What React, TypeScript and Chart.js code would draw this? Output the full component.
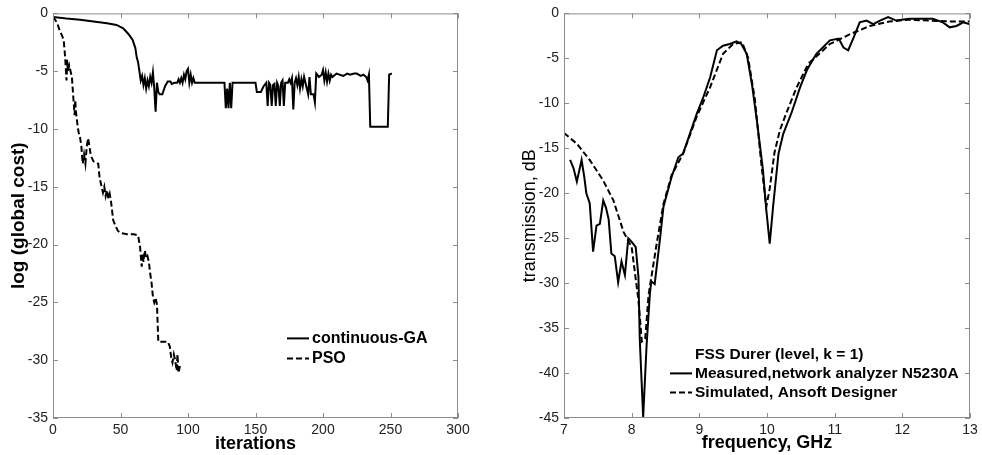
import React, { useEffect, useRef } from "react";
import { Chart, registerables } from "chart.js";

Chart.register(...registerables);

// ---------- Left chart: convergence ----------
const gaIter = [0, 10, 20, 30, 40, 47, 52, 56, 59, 61, 62, 63, 64, 65, 66, 67, 68, 69, 70, 71, 72, 73, 74, 75, 76, 77, 78, 79, 81, 83, 85, 87, 88, 90, 92, 93, 94, 95, 96, 97, 98, 99, 100, 101, 102, 103, 104, 105, 127, 128, 129, 130, 131, 132, 133, 150, 151, 154, 156, 158, 159, 160, 161, 162, 163, 164, 165, 166, 167, 168, 169, 170, 171, 172, 174, 175, 176, 177, 178, 179, 180, 181, 182, 183, 184, 185, 186, 187, 188, 189, 190, 191, 193, 194, 195, 197, 199, 200, 201, 202, 203, 204, 205, 206, 207, 210, 215, 218, 220, 223, 225, 228, 230, 232, 233, 234, 235, 248, 249, 251];
const gaCost = [-0.3, -0.45, -0.55, -0.7, -0.85, -1.0, -1.3, -1.8, -2.3, -3.0, -3.8, -4.2, -5.0, -5.8, -5.4, -6.2, -5.6, -6.5, -5.8, -6.3, -5.5, -6.0, -5.1, -6.5, -8.5, -6.0, -6.8, -7.0, -7.0, -6.3, -5.9, -5.9, -6.1, -6.0, -6.0, -5.7, -6.0, -5.6, -6.0, -5.3, -5.7, -5.0, -4.8, -6.0, -5.3, -6.0, -5.6, -6.0, -6.0, -8.2, -6.5, -8.2, -6.0, -8.2, -6.0, -6.0, -6.8, -6.8, -6.3, -6.0, -8.0, -6.0, -6.2, -8.0, -6.2, -6.1, -8.0, -6.0, -6.3, -8.0, -6.0, -5.8, -8.0, -6.0, -6.0, -5.7, -6.0, -5.6, -8.3, -6.0, -5.6, -6.2, -5.5, -6.5, -5.7, -6.3, -5.5, -6.0, -6.5, -7.0, -5.5, -7.0, -7.0, -7.7, -5.2, -5.5, -5.3, -4.9, -5.8, -5.1, -5.9, -5.2, -5.8, -5.3, -5.5, -5.2, -5.4, -5.2, -5.3, -5.2, -5.2, -5.4, -5.3, -5.5, -5.8, -5.3, -9.8, -9.8, -5.3, -5.2];

const psoIter = [0, 3, 5, 7, 8, 9, 10, 10.5, 11, 12, 13, 14, 15, 16, 16.5, 17, 18, 19, 20, 21, 22, 23, 24, 25, 26, 27, 28, 30, 33.5, 34.5, 36, 37, 38, 39, 40, 41, 42, 43, 44.6, 46, 48, 50, 55, 60, 63, 64.5, 65.7, 66.5, 67, 68, 69, 70, 71, 72, 73, 74, 75, 76, 77, 78, 80, 85, 86.5, 87.6, 88.5, 89.5, 90.5, 91.6, 92.2, 93, 94];
const psoCost = [-0.3, -0.8, -1.5, -2.0, -2.4, -3.8, -5.8, -4.0, -5.0, -4.5, -5.0, -5.5, -7.2, -8.8, -7.5, -8.5, -9.5, -10.3, -10.7, -11.5, -13.0, -12.2, -13.0, -11.5, -10.8, -11.5, -12.3, -12.8, -13.0, -14.2, -15.0, -15.5, -15.0, -15.8, -15.3, -16.0, -15.6, -16.3, -17.9, -18.3, -18.8, -19.0, -19.1, -19.1, -19.2, -20.2, -21.9, -20.8, -21.5, -20.5, -21.2, -21.0, -21.5, -22.5, -23.3, -24.5, -25.0, -24.6, -25.2, -28.4, -28.4, -28.4, -28.8, -29.8, -30.2, -29.5, -30.0, -30.9, -29.5, -31.1, -30.5];

// ---------- Right chart: transmission ----------
const measFreq = [7.09, 7.14, 7.19, 7.26, 7.3, 7.33, 7.38, 7.43, 7.48, 7.53, 7.58, 7.62, 7.66, 7.7, 7.75, 7.8, 7.85, 7.9, 7.95, 8.0, 8.06, 8.1, 8.12, 8.17, 8.22, 8.27, 8.29, 8.34, 8.42, 8.47, 8.59, 8.69, 8.76, 8.86, 8.96, 9.06, 9.16, 9.26, 9.35, 9.45, 9.55, 9.62, 9.7, 9.78, 9.85, 9.94, 9.985, 10.04, 10.09, 10.17, 10.24, 10.36, 10.49, 10.59, 10.73, 10.93, 11.06, 11.13, 11.2, 11.28, 11.37, 11.47, 11.57, 11.67, 11.79, 11.91, 12.1, 12.3, 12.45, 12.6, 12.7, 12.8, 12.9, 13.0];
const measDb = [-16.3, -17.2, -18.7, -16.3, -18.2, -20.0, -21.1, -26.5, -23.6, -23.4, -20.8, -21.6, -22.9, -26.7, -27.0, -29.9, -27.6, -29.1, -25.0, -25.4, -26.0, -29.3, -36.3, -44.9, -37.0, -31.1, -29.8, -30.1, -25.0, -21.5, -18.2, -16.0, -15.6, -13.4, -11.2, -9.3, -7.1, -4.1, -3.6, -3.4, -3.1, -3.4, -4.5, -8.0, -11.9, -17.4, -21.5, -25.6, -21.5, -15.6, -13.4, -11.1, -8.2, -6.3, -4.5, -3.0, -2.8, -3.8, -4.1, -2.7, -1.0, -0.8, -1.2, -0.8, -0.4, -0.8, -0.6, -0.6, -0.6, -1.0, -1.55, -1.4, -1.0, -1.2];

const simFreq = [7.0, 7.19, 7.38, 7.58, 7.73, 7.88, 8.0, 8.1, 8.15, 8.2, 8.25, 8.37, 8.47, 8.59, 8.76, 8.96, 9.16, 9.35, 9.5, 9.63, 9.72, 9.82, 9.92, 9.99, 10.04, 10.11, 10.19, 10.29, 10.44, 10.61, 10.8, 10.93, 11.23, 11.52, 11.81, 12.1, 12.4, 12.7, 13.0];
const simDb = [-13.3, -14.5, -16.3, -18.6, -20.8, -24.3, -26.0, -31.9, -36.5, -36.2, -31.3, -25.6, -21.2, -18.0, -15.6, -11.5, -8.2, -4.5, -3.4, -3.2, -4.9, -9.5, -17.0, -21.5, -19.5, -15.5, -13.0, -11.0, -8.2, -5.6, -4.3, -3.4, -2.3, -1.4, -0.9, -0.7, -0.8, -0.9, -0.9];

const leftLegend = ["continuous-GA", "PSO"];
const rightLegendTitle = "FSS Durer (level, k = 1)";
const rightLegend = ["Measured,network analyzer N5230A", "Simulated, Ansoft Designer"];

const FONT = "'Liberation Sans', Arial, sans-serif";

const zip = (xs: number[], ys: number[]) => xs.map((x, i) => ({ x, y: ys[i] }));

const framePlugin = {
  id: "frame",
  afterDraw(chart: any) {
    const { ctx, chartArea: a, scales } = chart;
    ctx.save();
    ctx.strokeStyle = "#8c8c8c";
    ctx.lineWidth = 1;
    ctx.strokeRect(a.left + 0.5, a.top + 0.5, a.right - a.left - 1, a.bottom - a.top - 1);
    const L = 5;
    ctx.beginPath();
    scales.x.ticks.forEach((_t: any, i: number) => {
      const x = Math.round(scales.x.getPixelForTick(i)) + 0.5;
      ctx.moveTo(x, a.bottom);
      ctx.lineTo(x, a.bottom - L);
      ctx.moveTo(x, a.top);
      ctx.lineTo(x, a.top + L);
    });
    scales.y.ticks.forEach((_t: any, i: number) => {
      const y = Math.round(scales.y.getPixelForTick(i)) + 0.5;
      ctx.moveTo(a.left, y);
      ctx.lineTo(a.left + L, y);
      ctx.moveTo(a.right, y);
      ctx.lineTo(a.right - L, y);
    });
    ctx.stroke();
    ctx.restore();
  },
};

const legendPlugin = {
  id: "innerLegend",
  afterDraw(chart: any, _args: any, opts: any) {
    const { ctx, chartArea: a } = chart;
    ctx.save();
    ctx.font = `bold ${opts.size}px ${FONT}`;
    ctx.fillStyle = "#000";
    ctx.textBaseline = "middle";
    const x0 = a.left + opts.dx;
    let y = a.top + opts.dy;
    if (opts.title) {
      ctx.fillText(opts.title, x0 + opts.lineLen + 3, y);
      y += opts.gap;
    }
    opts.items.forEach((label: string, i: number) => {
      ctx.strokeStyle = "#000";
      ctx.lineWidth = 2;
      ctx.setLineDash(i === 0 ? [] : [6, 3]);
      ctx.beginPath();
      ctx.moveTo(x0, y);
      ctx.lineTo(x0 + opts.lineLen, y);
      ctx.stroke();
      ctx.setLineDash([]);
      ctx.fillText(label, x0 + opts.lineLen + 3, y);
      y += opts.gap;
    });
    ctx.restore();
  },
};

function makeConfig(p: any) {
  return {
    type: "line",
    data: {
      datasets: [
        {
          data: p.d1,
          borderColor: "#000",
          borderWidth: 2,
          pointRadius: 0,
          tension: 0,
          fill: false,
        },
        {
          data: p.d2,
          borderColor: "#000",
          borderWidth: 2,
          borderDash: [6, 3],
          pointRadius: 0,
          tension: 0,
          fill: false,
        },
      ],
    },
    options: {
      animation: false,
      responsive: false,
      events: [],
      layout: { padding: { top: 13, right: p.padRight, left: 0, bottom: 0 } },
      plugins: {
        legend: { display: false },
        tooltip: { enabled: false },
        innerLegend: p.legend,
      },
      scales: {
        x: {
          type: "linear",
          min: p.xmin,
          max: p.xmax,
          grid: { display: false, drawTicks: false },
          border: { display: false },
          ticks: { stepSize: p.xstep, padding: 4, color: "#222", font: { family: FONT, size: 14 }, maxRotation: 0 },
          title: {
            display: true,
            text: p.xTitle,
            color: "#000",
            font: { family: FONT, size: 18, weight: "bold" },
            padding: { top: 0, bottom: p.xTitlePad },
          },
          afterFit: (s: any) => {
            s.height = 37;
          },
        },
        y: {
          type: "linear",
          min: p.ymin,
          max: 0,
          grid: { display: false, drawTicks: false },
          border: { display: false },
          ticks: { stepSize: 5, padding: 5, color: "#222", font: { family: FONT, size: 14 } },
          title: {
            display: true,
            text: p.yTitle,
            color: "#000",
            font: { family: FONT, size: p.yTitleSize, weight: p.yTitleWeight },
            padding: { top: p.yTitlePad, bottom: 0 },
          },
          afterFit: (s: any) => {
            s.width = p.yWidth;
          },
        },
      },
    },
    plugins: [framePlugin, legendPlugin],
  };
}

function ChartCanvas({ config, width, left }: { config: any; width: number; left: number }) {
  const ref = useRef<HTMLCanvasElement | null>(null);
  useEffect(() => {
    if (!ref.current) return;
    const chart = new Chart(ref.current, config);
    return () => chart.destroy();
  }, []);
  return (
    <canvas
      ref={ref}
      width={width}
      height={455}
      style={{ position: "absolute", left, top: 0, width, height: 455 }}
    />
  );
}

export default function App() {
  const leftCfg = makeConfig({
    d1: zip(gaIter, gaCost),
    d2: zip(psoIter, psoCost),
    xmin: 0,
    xmax: 300,
    xstep: 50,
    ymin: -35,
    padRight: 32,
    yWidth: 53,
    xTitle: "iterations",
    yTitle: "log (global cost)",
    yTitleWeight: "bold",
    yTitleSize: 19,
    yTitlePad: 7,
    xTitlePad: 0,
    legend: { title: null, items: leftLegend, dx: 234, dy: 325, gap: 20, lineLen: 22, size: 16 },
  });
  const rightCfg = makeConfig({
    d1: zip(measFreq, measDb),
    d2: zip(simFreq, simDb),
    xmin: 7,
    xmax: 13,
    xstep: 1,
    ymin: -45,
    padRight: 12,
    yWidth: 74,
    xTitle: "frequency, GHz",
    yTitle: "transmission, dB",
    yTitleWeight: "normal",
    yTitleSize: 18,
    yTitlePad: 29,
    xTitlePad: 1,
    legend: { title: rightLegendTitle, items: rightLegend, dx: 106, dy: 341, gap: 19, lineLen: 22, size: 15.5 },
  });
  return (
    <div style={{ position: "fixed", left: 0, top: 0, width: 982, height: 455, background: "#fff" }}>
      <ChartCanvas config={leftCfg} width={490} left={0} />
      <ChartCanvas config={rightCfg} width={492} left={490} />
    </div>
  );
}
